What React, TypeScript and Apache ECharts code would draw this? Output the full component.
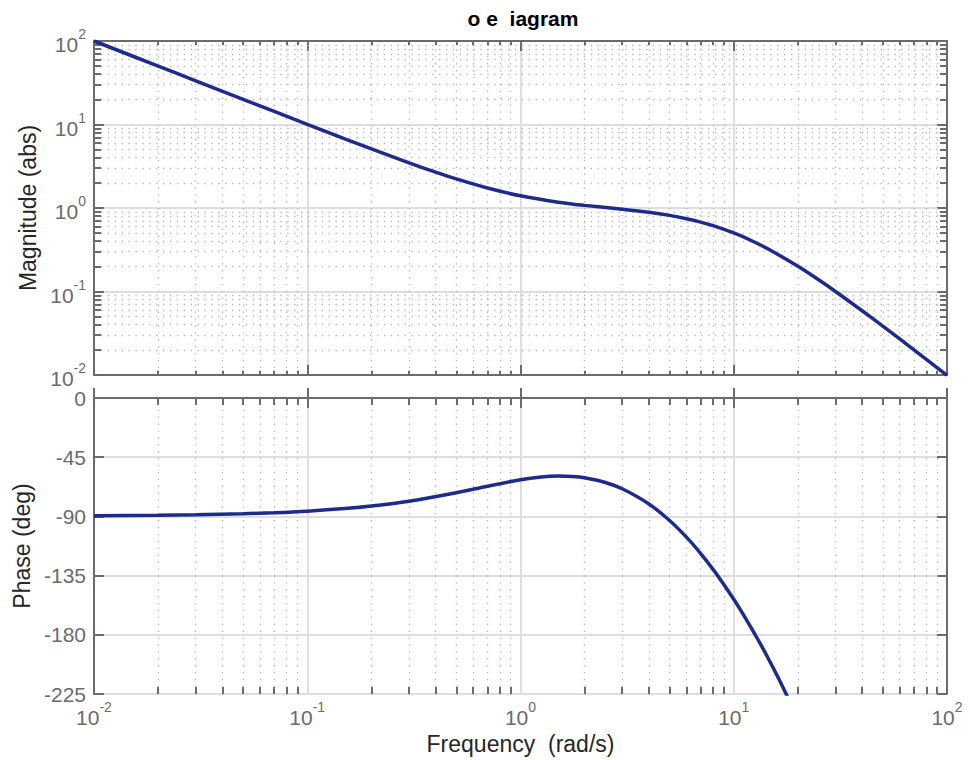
import React, { useEffect, useRef } from 'react';
import * as echarts from 'echarts';

// ---------- data ----------
const titleText = 'o e  iagram';
const xName = 'Frequency  (rad/s)';
const magName = 'Magnitude (abs)';
const phaseName = 'Phase (deg)';

const magFreq = [0.01, 0.02, 0.03, 0.05, 0.07, 0.1, 0.15, 0.2, 0.3, 0.4, 0.5, 0.7, 1, 1.5, 2, 3, 4, 5, 6, 7, 8, 10, 12, 15, 20, 25, 30, 40, 50, 70, 100];
const magValues = [100.0, 50.01, 33.35, 20.02, 14.32, 10.05, 6.74, 5.097, 3.477, 2.688, 2.23, 1.735, 1.4, 1.175, 1.075, 0.967, 0.889, 0.816, 0.745, 0.678, 0.615, 0.5025, 0.411, 0.308, 0.2, 0.138, 0.1001, 0.0588, 0.0385, 0.02, 0.0099];

const phaseFreq = [0.01, 0.02, 0.03, 0.05, 0.07, 0.1, 0.15, 0.2, 0.3, 0.5, 0.7, 1, 1.25, 1.5, 1.75, 2, 2.5, 3, 4, 5, 6, 7, 8, 9, 10, 11, 12, 13, 14, 15, 16, 17, 18];
const phaseValues = [-89.6, -89.2, -88.8, -88.0, -87.2, -86.01, -84.05, -82.13, -78.46, -72.03, -67.03, -62.15, -60.07, -59.35, -59.63, -60.64, -64.2, -69.02, -80.56, -93.09, -105.77, -118.22, -130.28, -141.88, -153.01, -163.67, -173.91, -183.75, -193.22, -202.38, -211.24, -219.84, -228.2];

const decadeStarts = [0.01, 0.1, 1, 10];
const minorMultipliers = [2, 3, 4, 5, 6, 7, 8, 9];

// ---------- styles ----------
const FONT = '"Liberation Sans", Arial, Helvetica, sans-serif';
const AXIS_COLOR = '#6b6b6b';
const LINE_COLOR = '#1c2b8c';
const MAJOR_GRID = '#dedede';
const MINOR_GRID = '#b8b8b8';

const minorValues: number[] = [];
decadeStarts.forEach((d) => minorMultipliers.forEach((m) => minorValues.push(+(d * m).toPrecision(3))));

const supRich = {
  b: { fontSize: 21, color: AXIS_COLOR, fontFamily: FONT, lineHeight: 28, verticalAlign: 'bottom' },
  s: { fontSize: 14, color: AXIS_COLOR, fontFamily: FONT, lineHeight: 14, verticalAlign: 'top' },
};
const supFormatter = (v: number) => {
  const e = Math.round(Math.log10(v));
  return `{b|10}{s|${e}}`;
};

const axisLine = { show: true, lineStyle: { color: AXIS_COLOR, width: 2 } };
const axisTick = { show: true, inside: true, length: 10, lineStyle: { color: AXIS_COLOR, width: 2 } };
const majorSplit = { show: true, lineStyle: { color: MAJOR_GRID, width: 2 } };

const dotted = { color: MINOR_GRID, width: 1.4, type: [1.4, 5.5] as any };
const tickStyle = { color: AXIS_COLOR, width: 2, type: 'solid' as any };

const MINOR_X_FACTOR = 1.079; // ~7px in x (log)
const MINOR_Y_FACTOR = 1.247; // ~8px in magnitude y (log)
const PHASE_TICK = 5.3; // ~7px in phase y

function magMarkData() {
  const d: any[] = [];
  minorValues.forEach((v) => {
    d.push({ xAxis: v, lineStyle: dotted });
    d.push({ yAxis: v, lineStyle: dotted });
  });
  minorValues.forEach((v) => {
    d.push([{ coord: [v, 0.01], lineStyle: tickStyle }, { coord: [v, 0.01 * MINOR_Y_FACTOR * 0.9] }]);
    d.push([{ coord: [v, 100 / (MINOR_Y_FACTOR * 0.9)], lineStyle: tickStyle }, { coord: [v, 100] }]);
    d.push([{ coord: [0.01, v], lineStyle: tickStyle }, { coord: [0.01 * MINOR_X_FACTOR, v] }]);
    d.push([{ coord: [100 / MINOR_X_FACTOR, v], lineStyle: tickStyle }, { coord: [100, v] }]);
  });
  return d;
}

function phaseMarkData() {
  const d: any[] = [];
  minorValues.forEach((v) => {
    d.push({ xAxis: v, lineStyle: dotted });
  });
  minorValues.forEach((v) => {
    d.push([{ coord: [v, -225], lineStyle: tickStyle }, { coord: [v, -225 + PHASE_TICK] }]);
    d.push([{ coord: [v, -PHASE_TICK], lineStyle: tickStyle }, { coord: [v, 0] }]);
  });
  return d;
}

function buildOption(): any {
  const logX = (gridIndex: number, position: string, labels: boolean, name?: string) => ({
    type: 'log',
    logBase: 10,
    gridIndex,
    position,
    min: 0.01,
    max: 100,
    axisLine,
    axisTick,
    splitLine: position === 'bottom' ? majorSplit : { show: false },
    axisLabel: labels
      ? { show: true, formatter: supFormatter, rich: supRich, margin: 6 }
      : { show: false },
    name: name,
    nameLocation: 'middle',
    nameGap: 38,
    nameTextStyle: { fontSize: 23, color: '#262626', fontFamily: FONT },
  });

  return {
    animation: false,
    backgroundColor: '#ffffff',
    title: {
      text: titleText,
      left: 518,
      top: 3,
      textAlign: 'center',
      textStyle: { fontSize: 21, fontWeight: 'bold', color: '#000000', fontFamily: FONT },
    },
    grid: [
      { left: 94, top: 41, width: 853, height: 334 },
      { left: 94, top: 398, width: 853, height: 296 },
    ],
    xAxis: [
      logX(0, 'bottom', false),
      logX(0, 'top', false),
      logX(1, 'bottom', true, xName),
      logX(1, 'top', false),
    ],
    yAxis: [
      {
        type: 'log', logBase: 10, gridIndex: 0, position: 'left', min: 0.01, max: 100,
        axisLine, axisTick, splitLine: majorSplit,
        axisLabel: { show: true, formatter: supFormatter, rich: supRich, margin: 8 },
        name: magName, nameLocation: 'middle', nameGap: 50,
        nameTextStyle: { fontSize: 23, color: '#262626', fontFamily: FONT },
      },
      {
        type: 'log', logBase: 10, gridIndex: 0, position: 'right', min: 0.01, max: 100,
        axisLine, axisTick, splitLine: { show: false }, axisLabel: { show: false },
      },
      {
        type: 'value', gridIndex: 1, position: 'left', min: -225, max: 0, interval: 45,
        axisLine, axisTick, splitLine: majorSplit,
        axisLabel: {
          show: true, margin: 8, fontSize: 21, color: AXIS_COLOR, fontFamily: FONT,
          formatter: (v: number) => (v === 0 ? '0' : String(v)),
        },
        name: phaseName, nameLocation: 'middle', nameGap: 50,
        nameTextStyle: { fontSize: 23, color: '#262626', fontFamily: FONT },
      },
      {
        type: 'value', gridIndex: 1, position: 'right', min: -225, max: 0, interval: 45,
        axisLine, axisTick, splitLine: { show: false }, axisLabel: { show: false },
      },
    ],
    series: [
      {
        type: 'line', xAxisIndex: 0, yAxisIndex: 0, data: [], z: 1, silent: true,
        markLine: { silent: true, symbol: ['none', 'none'], label: { show: false }, animation: false, data: magMarkData() },
      },
      {
        type: 'line', xAxisIndex: 2, yAxisIndex: 2, data: [], z: 1, silent: true,
        markLine: { silent: true, symbol: ['none', 'none'], label: { show: false }, animation: false, data: phaseMarkData() },
      },
      {
        type: 'line', xAxisIndex: 0, yAxisIndex: 0, z: 5,
        data: magFreq.map((f, i) => [f, magValues[i]]),
        showSymbol: false, smooth: 0.3, clip: true,
        lineStyle: { color: LINE_COLOR, width: 3.5 },
      },
      {
        type: 'line', xAxisIndex: 2, yAxisIndex: 2, z: 5,
        data: phaseFreq.map((f, i) => [f, phaseValues[i]]),
        showSymbol: false, smooth: 0.3, clip: true,
        lineStyle: { color: LINE_COLOR, width: 3.5 },
      },
    ],
  };
}

export default function App() {
  const ref = useRef<HTMLDivElement>(null);
  useEffect(() => {
    if (!ref.current) return;
    const chart = echarts.init(ref.current, null, { renderer: 'svg' });
    chart.setOption(buildOption());
    return () => chart.dispose();
  }, []);
  return (
    <div
      ref={ref}
      style={{ position: 'fixed', left: 0, top: 0, width: 970, height: 760, background: '#ffffff' }}
    />
  );
}
